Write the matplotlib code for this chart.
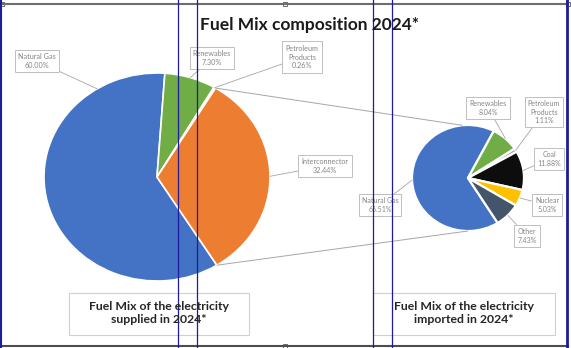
import matplotlib.pyplot as plt
from matplotlib.patches import ConnectionPatch, Rectangle
from matplotlib.lines import Line2D
import numpy as np

W, H = 571, 348

# electricity supplied
supplied_labels = ["Natural Gas", "Renewables", "Petroleum\nProducts", "Interconnector"]
supplied_values = [60.00, 7.30, 0.26, 32.44]

# electricity imported (breakdown of the interconnector slice)
imported_labels = ["Natural Gas", "Renewables", "Petroleum\nProducts", "Coal", "Nuclear", "Other"]
imported_values = [66.51, 8.04, 1.11, 11.88, 5.03, 7.43]

supplied_colors = ["#4472C4", "#70AD47", "#A5A5A5", "#ED7D31"]
imported_colors = ["#4472C4", "#70AD47", "#A5A5A5", "#0D0D0D", "#FFC000", "#44546A"]

# label box centres in pixels (from top-left)
supplied_label_pos = [(37, 61), (212, 58), (302, 57), (325, 166)]
imported_label_pos = [(380, 205), (488, 108), (544, 112), (549, 159), (547, 205), (527, 236)]

LABEL_GRAY = "#858585"
LINE_GRAY = "#A6A6A6"


def fig_frac(x, y):
	return x / W, 1 - y / H


def pie_axes(fig, cx, cy, rx, ry):
	ax = fig.add_axes([(cx - rx) / W, 1 - (cy + ry) / H, 2 * rx / W, 2 * ry / H])
	return ax


def draw_pie(ax, values, colors, lw):
	wedges, _ = ax.pie(values, colors=colors, startangle=302, counterclock=False,
		wedgeprops=dict(edgecolor="white", linewidth=lw))
	ax.set_aspect("auto")
	ax.set_xlim(-1, 1)
	ax.set_ylim(-1, 1)
	ax.axis("off")
	return wedges


def add_labels(ax, wedges, labels, values, positions, size, anchors=None):
	anchors = anchors or {}
	for i, (w, lab, v, pos) in enumerate(zip(wedges, labels, values, positions)):
		ang = anchors.get(i, (w.theta1 + w.theta2) / 2)
		a = np.radians(ang)
		ax.annotate("%s\n%.2f%%" % (lab, v), xy=(np.cos(a), np.sin(a)), xycoords="data",
			xytext=fig_frac(*pos), textcoords="figure fraction",
			ha="center", va="center", fontsize=size, color=LABEL_GRAY, family="Lato",
			linespacing=1.3, annotation_clip=False,
			bbox=dict(boxstyle="square,pad=0.45", fc="white", ec="#BFBFBF", lw=0.7),
			arrowprops=dict(arrowstyle="-", color=LINE_GRAY, lw=0.6, shrinkA=0, shrinkB=0))


fig = plt.figure(figsize=(W / 100, H / 100), dpi=100)

ax1 = pie_axes(fig, 157, 177, 113, 104)
w1 = draw_pie(ax1, supplied_values, supplied_colors, 1.2)
add_labels(ax1, w1, supplied_labels, supplied_values, supplied_label_pos, 5.2, anchors={0: 122})

ax2 = pie_axes(fig, 468, 178, 56, 53)
w2 = draw_pie(ax2, imported_values, imported_colors, 1.6)
add_labels(ax2, w2, imported_labels, imported_values, imported_label_pos, 5.0)

# lines joining the interconnector slice to the imported pie
ic = w1[3]
for angA, angB in [(ic.theta2, 96), (ic.theta1, -90)]:
	a, b = np.radians(angA), np.radians(angB)
	con = ConnectionPatch(xyA=(np.cos(a), np.sin(a)), coordsA=ax1.transData,
		xyB=(np.cos(b), np.sin(b)), coordsB=ax2.transData, color=LINE_GRAY, lw=0.7)
	fig.add_artist(con)

fig.text(*fig_frac(309, 25), "Fuel Mix composition 2024*", ha="center", va="center",
	fontsize=12.5, fontweight="bold", family="Lato", color="#1A1A1A")

# caption boxes under each pie
for (x0, y0, x1, y1), txt in [((69, 293, 249, 335), "Fuel Mix of the electricity\nsupplied in 2024*"),
		((373, 293, 555, 335), "Fuel Mix of the electricity\nimported in 2024*")]:
	fig.add_artist(Rectangle(fig_frac(x0, y1), (x1 - x0) / W, (y1 - y0) / H,
		transform=fig.transFigure, fc="white", ec="#D0D0D0", lw=0.8))
	fig.text(*fig_frac((x0 + x1) / 2, (y0 + y1) / 2 - 1), txt, ha="center", va="center",
		fontsize=8.8, fontweight="bold", family="Lato", color="#262626", linespacing=1.25)

# page frame and column guides
fig.add_artist(Line2D([0, 568 / W], [1 - 4 / H] * 2, transform=fig.transFigure, color="#6E6E6E", lw=1.5))
fig.add_artist(Line2D([0, 568 / W], [1 - 346 / H] * 2, transform=fig.transFigure, color="#4D4D4D", lw=1.5))
for x, lw in [(1, 1.5), (178, 0.9), (197, 0.9), (373, 0.9), (392, 0.9), (567, 2)]:
	fig.add_artist(Line2D([x / W] * 2, [0, 1], transform=fig.transFigure, color="#1C1C9C", lw=lw))
for x, y in [(2, 4), (285, 4), (568, 4), (285, 346)]:
	fx, fy = fig_frac(x, y)
	fig.add_artist(Rectangle((fx - 2 / W, fy - 2 / H), 4 / W, 4 / H, transform=fig.transFigure,
		fc="white", ec="#555555", lw=0.6))

fig.savefig("out.png", dpi=100)
